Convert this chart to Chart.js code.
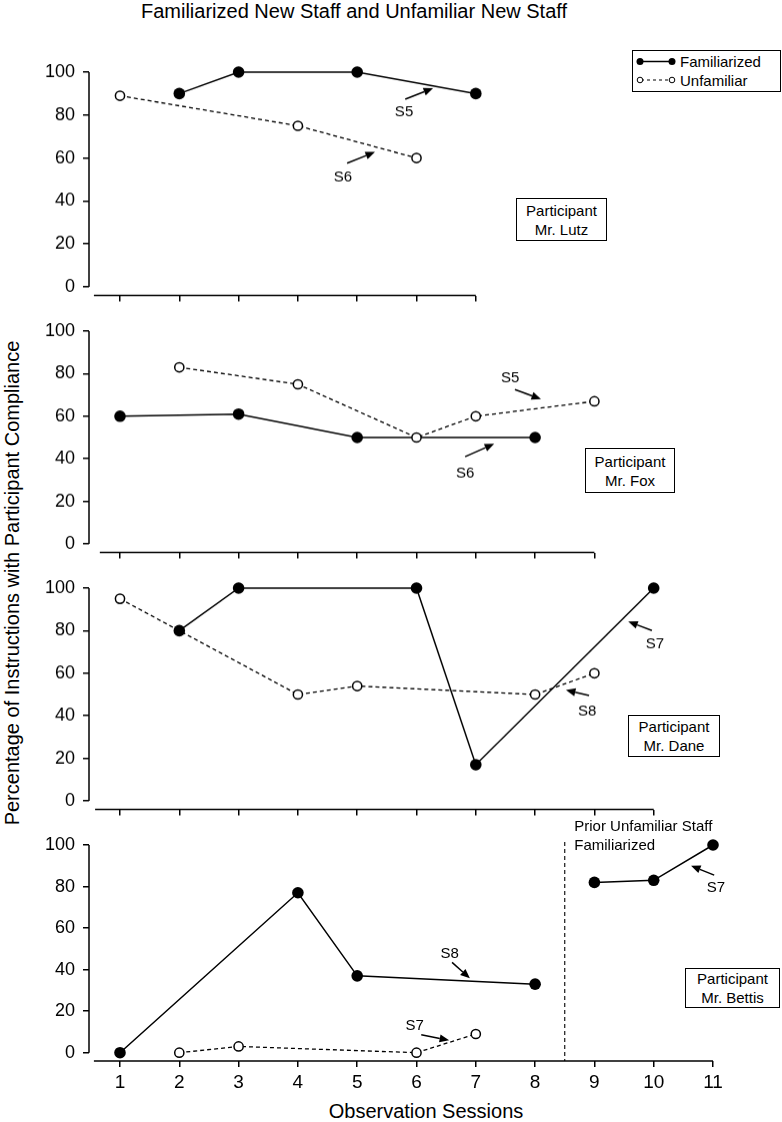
<!DOCTYPE html>
<html><head><meta charset="utf-8">
<script src="https://cdn.jsdelivr.net/npm/chart.js@4.4.1/dist/chart.umd.min.js"></script>
<style>
html,body{margin:0;padding:0;background:#fff}
body{width:782px;height:1122px;position:relative;overflow:hidden;font-family:"Liberation Sans",Arial,Helvetica,sans-serif;color:#000}
.wrap{position:absolute;left:0;width:782px}
.txt{position:absolute;white-space:nowrap;line-height:24px}
.pbox{position:absolute;border:1.5px solid #000;box-sizing:border-box;background:#fff;font-size:15px;line-height:19px;text-align:center;display:flex;flex-direction:column;justify-content:center}
</style></head><body>

<div class="txt" id="mainTitle" style="left:0;top:-1px;width:708px;text-align:center;font-size:20px">Familiarized New Staff and Unfamiliar New Staff</div>
<div class="txt" id="yTitle" style="left:-288px;top:571px;width:600px;text-align:center;font-size:20px;transform:rotate(-90deg)">Percentage of Instructions with Participant Compliance</div>
<div class="txt" id="xTitle" style="left:226px;top:1099px;width:400px;text-align:center;font-size:20px">Observation Sessions</div>

<div id="legend" style="position:absolute;left:632px;top:50px;width:149px;height:42px;border:1.5px solid #000;box-sizing:border-box;background:#fff">
 <svg width="146" height="39" style="position:absolute;left:0;top:0">
  <line x1="7" y1="10.5" x2="39" y2="10.5" stroke="#000" stroke-width="1.5"/>
  <circle cx="7" cy="10.5" r="3.5" fill="#000"/><circle cx="39" cy="10.5" r="3.5" fill="#000"/>
  <line x1="8" y1="29" x2="38" y2="29" stroke="#000" stroke-width="1.1" stroke-dasharray="3,3"/>
  <circle cx="7" cy="29" r="2.8" fill="#fff" stroke="#000" stroke-width="1"/><circle cx="39" cy="29" r="2.8" fill="#fff" stroke="#000" stroke-width="1"/>
 </svg>
 <span id="lg0" style="position:absolute;left:47px;top:1px;font-size:15px;line-height:19px"></span>
 <span id="lg1" style="position:absolute;left:47px;top:19.5px;font-size:15px;line-height:19px"></span>
</div>

<div class="wrap" id="w0"><canvas id="c0"></canvas></div>
<div class="wrap" id="w1"><canvas id="c1"></canvas></div>
<div class="wrap" id="w2"><canvas id="c2"></canvas></div>
<div class="wrap" id="w3"><canvas id="c3"></canvas></div>

<div class="pbox" id="p0" style="left:516px;top:198px;width:91px;height:43px"></div>
<div class="pbox" id="p1" style="left:585px;top:448px;width:90px;height:45px"></div>
<div class="pbox" id="p2" style="left:628px;top:715px;width:92px;height:42px"></div>
<div class="pbox" id="p3" style="left:685px;top:968px;width:95px;height:40px"></div>

<script>
// ---------------- DATA ----------------
const sessionTicks = [1,2,3,4,5,6,7,8,9,10,11];
const yTicks = [0,20,40,60,80,100];
const seriesNames = ['Familiarized','Unfamiliar'];
const participantLabel = 'Participant';
const participants = ['Mr. Lutz','Mr. Fox','Mr. Dane','Mr. Bettis'];
const lastSession = [7,9,10,11];

const lutzFamX = [2,3,5,7],        lutzFamY = [90,100,100,90];
const lutzUnfX = [1,4,6],          lutzUnfY = [89,75,60];
const foxFamX  = [1,3,5,8],        foxFamY  = [60,61,50,50];
const foxUnfX  = [2,4,6,7,9],      foxUnfY  = [83,75,50,60,67];
const daneFamX = [2,3,6,7,10],     daneFamY = [80,100,100,17,100];
const daneUnfX = [1,4,5,8,9],      daneUnfY = [95,50,54,50,60];
const bettisFamX  = [1,4,5,8],     bettisFamY  = [0,77,37,33];
const bettisFam2X = [9,10,11],     bettisFam2Y = [82,83,100];
const bettisUnfX  = [2,3,6,7],     bettisUnfY  = [0,3,0,9];
const phaseChangeAt = 8.5;
const phaseLabel = ['Prior Unfamiliar Staff','Familiarized'];

// ---------------- LAYOUT / STYLE ----------------
const FONT = '"Liberation Sans", Arial, Helvetica, sans-serif';
const PX1 = 120, PXS = 59.3, AXIS_LEFT = 89, W = 782;
const layouts = [
  {top:72,  bottom:294.5, padTop:20, axisH:26, xStart:0.56, labels:false},
  {top:331, bottom:551.5, padTop:20, axisH:26, xStart:0.66, labels:false},
  {top:588, bottom:808.5, padTop:20, axisH:26, xStart:0.58, labels:false},
  {top:845, bottom:1061,  padTop:40, axisH:45, xStart:0.56, labels:true}
];
const notes = [
  [{t:'S5',tx:5.79,ty:81.4,a:[5.81,87.4,6.28,92.5]},{t:'S6',tx:4.76,ty:51.1,a:[4.83,57.6,5.30,62.8]}],
  [{t:'S5',tx:7.58,ty:78.0,a:[7.66,72.5,8.10,68.1]},{t:'S6',tx:6.82,ty:33.3,a:[6.82,41.0,7.31,47.0]}],
  [{t:'S7',tx:10.02,ty:73.8,a:[9.97,80.1,9.57,84.3]},{t:'S8',tx:8.88,ty:41.9,a:[8.91,49.5,8.52,52.1]}],
  [{t:'S8',tx:6.56,ty:47.6,a:[6.60,43.5,6.90,35.8]},{t:'S7',tx:5.97,ty:12.9,a:[6.08,8.6,6.55,6.0]},{t:'S7',tx:11.05,ty:79.5,a:[11.02,85.5,10.63,90.0]}]
];

const pts = (xs, ys) => xs.map((x,i)=>({x:x, y:ys[i]}));
const panelSeries = [
  {fam:[pts(lutzFamX,lutzFamY)], unf:pts(lutzUnfX,lutzUnfY)},
  {fam:[pts(foxFamX,foxFamY)], unf:pts(foxUnfX,foxUnfY)},
  {fam:[pts(daneFamX,daneFamY)], unf:pts(daneUnfX,daneUnfY)},
  {fam:[pts(bettisFamX,bettisFamY), pts(bettisFam2X,bettisFam2Y)], unf:pts(bettisUnfX,bettisUnfY)}
];

document.getElementById('lg0').textContent = seriesNames[0];
document.getElementById('lg1').textContent = seriesNames[1];
participants.forEach((p,i)=>{
  const b = document.getElementById('p'+i);
  const a = document.createElement('div'); a.textContent = participantLabel;
  const c = document.createElement('div'); c.textContent = p;
  b.appendChild(a); b.appendChild(c);
});

function arrow(ctx, x1, y1, x2, y2){
  const ang = Math.atan2(y2-y1, x2-x1), L = 9.5, H = 4;
  const bx = x2 - L*Math.cos(ang), by = y2 - L*Math.sin(ang);
  ctx.beginPath(); ctx.moveTo(x1,y1); ctx.lineTo(bx,by); ctx.stroke();
  ctx.beginPath();
  ctx.moveTo(x2,y2);
  ctx.lineTo(bx + H*Math.sin(ang), by - H*Math.cos(ang));
  ctx.lineTo(bx - H*Math.sin(ang), by + H*Math.cos(ang));
  ctx.closePath(); ctx.fill();
}

const decor = {
  id:'decor',
  afterDraw(chart, args, opts){
    const p = opts.panel, L = layouts[p];
    const {ctx, chartArea:ca} = chart, x = chart.scales.x, y = chart.scales.y;
    ctx.save();
    ctx.strokeStyle = '#000'; ctx.fillStyle = '#000'; ctx.lineWidth = 1.5;
    // axis lines
    ctx.beginPath();
    ctx.moveTo(ca.left, y.getPixelForValue(yTicks[yTicks.length-1]));
    ctx.lineTo(ca.left, y.getPixelForValue(yTicks[0]));
    ctx.stroke();
    ctx.beginPath();
    ctx.moveTo(x.getPixelForValue(L.xStart), ca.bottom);
    ctx.lineTo(x.getPixelForValue(lastSession[p]), ca.bottom);
    ctx.stroke();
    // phase change line
    if (p === 3){
      ctx.save();
      ctx.lineWidth = 1.1; ctx.setLineDash([4,3]);
      const px = x.getPixelForValue(phaseChangeAt);
      ctx.beginPath(); ctx.moveTo(px, y.getPixelForValue(101.5)); ctx.lineTo(px, ca.bottom); ctx.stroke();
      ctx.restore();
      ctx.font = '15px ' + FONT; ctx.textAlign = 'left'; ctx.textBaseline = 'middle';
      ctx.fillText(phaseLabel[0], x.getPixelForValue(8.66), y.getPixelForValue(108.9));
      ctx.fillText(phaseLabel[1], x.getPixelForValue(8.66), y.getPixelForValue(99.5));
    }
    // annotations
    ctx.lineWidth = 1.5;
    ctx.font = '15px ' + FONT; ctx.textAlign = 'center'; ctx.textBaseline = 'middle';
    notes[p].forEach(n=>{
      ctx.fillText(n.t, x.getPixelForValue(n.tx), y.getPixelForValue(n.ty));
      arrow(ctx, x.getPixelForValue(n.a[0]), y.getPixelForValue(n.a[1]), x.getPixelForValue(n.a[2]), y.getPixelForValue(n.a[3]));
    });
    ctx.restore();
  }
};

layouts.forEach((L, p)=>{
  const wrap = document.getElementById('w'+p);
  const H = L.padTop + (L.bottom - L.top) + L.axisH;
  wrap.style.top = (L.top - L.padTop) + 'px';
  wrap.style.height = H + 'px';
  const rightPx = PX1 + (lastSession[p]-1)*PXS;
  const xmin = 1 + (AXIS_LEFT - PX1)/PXS;
  const S = panelSeries[p];
  const datasets = [];
  datasets.push({
    label: seriesNames[1], data: S.unf, order: 0,
    borderColor:'#000', borderWidth:1.3, borderDash:[4,3],
    pointRadius:4.6, pointHoverRadius:4.6, pointBackgroundColor:'#fff', pointBorderColor:'#000', pointBorderWidth:1.5,
    clip:false, tension:0, fill:false
  });
  S.fam.forEach(d=>datasets.push({
    label: seriesNames[0], data: d, order: 1,
    borderColor:'#000', borderWidth:1.5,
    pointRadius:5.8, pointHoverRadius:5.8, pointBackgroundColor:'#000', pointBorderColor:'#000', pointBorderWidth:0,
    clip:false, tension:0, fill:false
  }));
  new Chart(document.getElementById('c'+p), {
    type:'line',
    data:{datasets},
    options:{
      responsive:true, maintainAspectRatio:false, animation:false,
      layout:{padding:{top:L.padTop, left:0, right:W - rightPx, bottom:0}},
      plugins:{legend:{display:false}, tooltip:{enabled:false}, decor:{panel:p}},
      events:[],
      scales:{
        x:{type:'linear', min:xmin, max:lastSession[p],
          afterBuildTicks:s=>{ s.ticks = sessionTicks.filter(v=>v<=lastSession[p]).map(v=>({value:v})); },
          afterFit:s=>{ s.height = L.axisH; },
          border:{display:false},
          grid:{drawOnChartArea:false, drawTicks:true, tickLength:6, color:'#000', lineWidth:1.5},
          ticks:{display:L.labels, autoSkip:false, maxRotation:0, color:'#000', padding:4, font:{family:FONT, size:19}}
        },
        y:{type:'linear', min:-4, max:100,
          afterBuildTicks:s=>{ s.ticks = yTicks.map(v=>({value:v})); },
          afterFit:s=>{ s.width = AXIS_LEFT; },
          border:{display:false},
          grid:{drawOnChartArea:false, drawTicks:true, tickLength:6, color:'#000', lineWidth:1.5},
          ticks:{color:'#000', padding:8, font:{family:FONT, size:18}}
        }
      }
    },
    plugins:[decor]
  });
});
</script>
</body></html>
